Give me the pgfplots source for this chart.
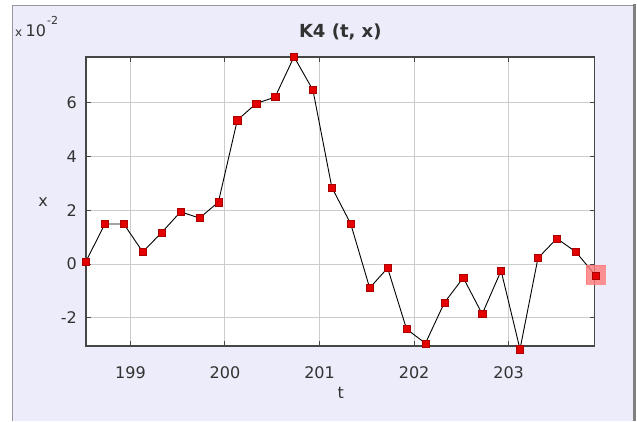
\documentclass[border=0pt]{standalone}
\usepackage{pgfplots}
\pgfplotsset{compat=1.18}
\usepackage{fontspec}
\setmainfont{DejaVu Sans}

\definecolor{panel}{RGB}{236,236,250}
\definecolor{paneledge}{RGB}{150,150,160}
\definecolor{axisline}{RGB}{70,70,70}
\definecolor{gridgray}{RGB}{204,204,204}
\definecolor{markred}{RGB}{228,0,0}
\definecolor{markedge}{RGB}{170,0,0}
\definecolor{hilite}{RGB}{255,120,120}
\definecolor{txt}{RGB}{50,50,50}

\begin{document}
\begin{tikzpicture}
  \useasboundingbox (0,0) rectangle (637pt,421pt);
  \fill[white] (0,0) rectangle (637pt,421pt);
  % window panel
  \fill[panel] (12pt,0) rectangle (634pt,416pt);
  \draw[paneledge, line width=1pt] (12.5pt,0) -- (12.5pt,415.5pt) -- (634pt,415.5pt);
  \draw[gray, line width=3pt] (634.5pt,0) -- (634.5pt,417pt);

  \begin{axis}[
    at={(86pt,75pt)}, anchor=south west,
    scale only axis, width=508.7pt, height=289pt,
    xmin=198.53, xmax=203.91, ymin=-3.05, ymax=7.70,
    axis background/.style={fill=white},
    xtick={199,200,201,202,203},
    xticklabels={199,200,201,202,203},
    ytick={-2,0,2,4,6},
    yticklabels={-2,0,2,4,6},
    grid=major,
    major grid style={gridgray, line width=1pt},
    axis line style={axisline, line width=1.2pt},
    tick style={axisline, line width=1pt},
    major tick length=5pt,
    tick align=inside,
    xtick pos=both, ytick pos=both,
    ticklabel style={font=\fontsize{16}{18}\selectfont, text=txt, inner sep=0pt},
    xticklabel style={anchor=north, yshift=-20.5pt},
    yticklabel style={anchor=east, xshift=-9pt},
    clip=false,
  ]
    % highlighted last sample
    \addplot[only marks, color=hilite, mark=square*, mark size=9.5pt,
      mark options={fill=hilite, draw=hilite, opacity=0.8}]
      coordinates {(203.92,-0.40)};
    % K4 samples
    \addplot[black, line width=0.9pt, mark=square*, mark size=3.6pt,
      mark options={fill=markred, draw=markedge, line width=0.4pt, solid}]
      table {
t x
198.53 0.10
198.73 1.49
198.93 1.49
199.13 0.45
199.33 1.17
199.53 1.94
199.73 1.71
199.93 2.30
200.13 5.35
200.33 5.97
200.53 6.21
200.73 7.71
200.93 6.47
201.13 2.85
201.33 1.49
201.53 -0.89
201.72 -0.15
201.92 -2.42
202.12 -2.95
202.32 -1.44
202.52 -0.51
202.72 -1.86
202.92 -0.25
203.12 -3.17
203.31 0.22
203.51 0.95
203.71 0.45
203.92 -0.43
      };
  \end{axis}

  % title, axis labels and exponent
  \node[anchor=base, text=txt, font=\fontsize{18}{20}\selectfont\bfseries] at (340.3pt,383.3pt) {K4 (t, x)};
  \node[text=txt, font=\fontsize{16}{18}\selectfont] at (340.7pt,28.5pt) {t};
  \node[text=txt, font=\fontsize{16}{18}\selectfont] at (43pt,219pt) {x};
  \node[anchor=base west, inner sep=0pt, text=txt, font=\fontsize{12}{14}\selectfont] at (15pt,384pt) {x};
  \node[anchor=base west, inner sep=0pt, text=txt, font=\fontsize{16}{18}\selectfont] at (25.5pt,384pt) {10};
  \node[anchor=base west, inner sep=0pt, text=txt, font=\fontsize{11}{13}\selectfont] at (47pt,396pt) {-2};
\end{tikzpicture}
\end{document}
